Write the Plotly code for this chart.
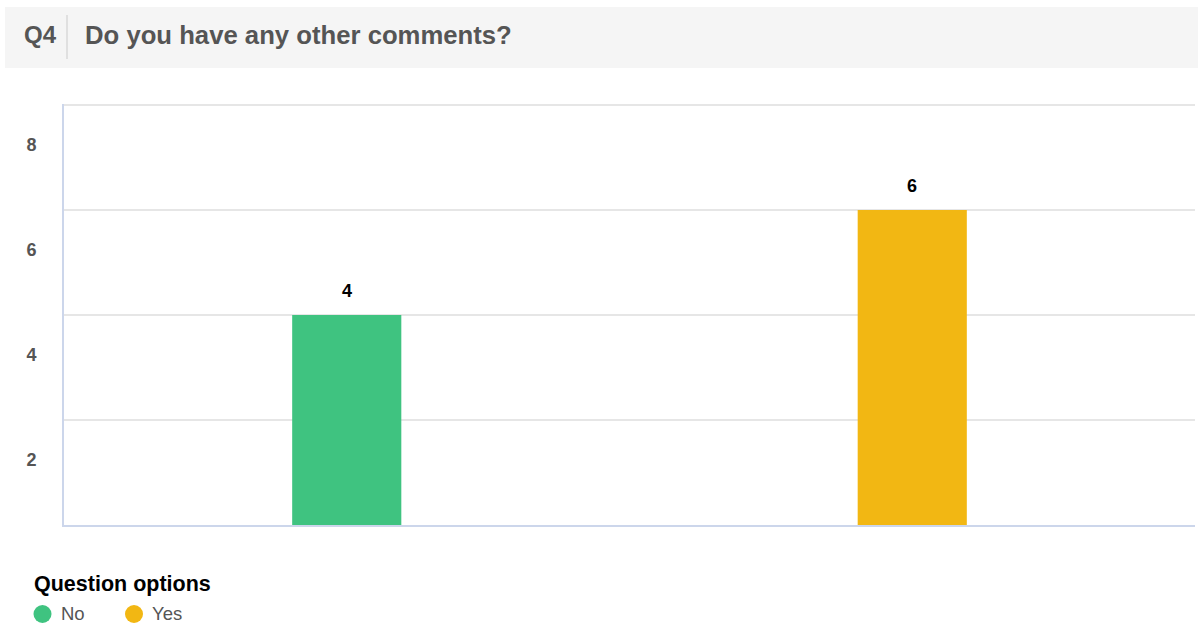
import plotly.graph_objects as go

categories = ["No", "Yes"]
values = [4, 6]
colors = ["#3fc380", "#f2b713"]
tick_vals = [2, 4, 6, 8]
tick_text = ["2", "4", "6", "8"]
question_no = "Q4"
question_title = "Do you have any other comments?"
legend_title = "Question options"

W, H = 1198, 623
L, R, T, B = 64, 3, 104, 98
pw = W - L - R
ph = H - T - B

def px_x(p):  # screen x -> paper
    return (p - L) / pw

def px_y(p):  # screen y -> paper
    return (H - B - p) / ph

fig = go.Figure()
for cat, val, col in zip(categories, values, colors):
    fig.add_trace(go.Bar(x=[cat], y=[val], marker=dict(color=col, line=dict(width=0)),
                         width=0.193, showlegend=False, hoverinfo="skip"))

annotations = []
for cat, val in zip(categories, values):
    annotations.append(dict(x=cat, y=val, xref="x", yref="y", text=f"<b>{val}</b>",
                            showarrow=False, yshift=24,
                            font=dict(family="Liberation Sans", size=18, color="#000000")))
annotations.append(dict(x=px_x(22), y=px_y(34.5), xref="paper", yref="paper", xanchor="left",
                        yanchor="middle", text=f"<b>{question_no}</b>", showarrow=False,
                        font=dict(family="Liberation Sans", size=24, color="#555555")))
annotations.append(dict(x=px_x(83), y=px_y(34.5), xref="paper", yref="paper", xanchor="left",
                        yanchor="middle", text=f"<b>{question_title}</b>", showarrow=False,
                        font=dict(family="Liberation Sans", size=25.7, color="#555555")))
# legend (title + items)
annotations.append(dict(x=px_x(32), y=px_y(584), xref="paper", yref="paper", xanchor="left",
                        yanchor="middle", text=f"<b>{legend_title}</b>", showarrow=False,
                        font=dict(family="Liberation Sans", size=21.5, color="#000000")))
leg_dot_x = [42.5, 134]
leg_text_x = [59, 150]
shapes = [
    dict(type="rect", xref="paper", yref="paper", x0=px_x(5), x1=px_x(1200), y0=px_y(68), y1=px_y(7),
         fillcolor="#f5f5f5", line=dict(width=0), layer="below"),
    dict(type="line", xref="paper", yref="paper", x0=px_x(67), x1=px_x(67), y0=px_y(59), y1=px_y(15),
         line=dict(color="#d8d8d8", width=1.5)),
]
for cat, col, dx, tx in zip(categories, colors, leg_dot_x, leg_text_x):
    shapes.append(dict(type="circle", xref="paper", yref="paper", xsizemode="pixel", ysizemode="pixel",
                       xanchor=px_x(dx), yanchor=px_y(614), x0=-9, x1=9, y0=-9, y1=9,
                       fillcolor=col, line=dict(width=0)))
    annotations.append(dict(x=px_x(tx), y=px_y(613.5), xref="paper", yref="paper", xanchor="left",
                            yanchor="middle", text=cat, showarrow=False,
                            font=dict(family="Liberation Sans", size=18.5, color="#555555")))

fig.update_layout(
    width=W, height=H,
    margin=dict(l=L, r=R, t=T, b=B, pad=0, autoexpand=False),
    paper_bgcolor="white", plot_bgcolor="white",
    barmode="overlay",
    font=dict(family="Liberation Sans", color="#555555"),
    annotations=annotations,
    shapes=shapes,
    showlegend=False,
)
fig.update_xaxes(categoryorder="array", categoryarray=categories, showticklabels=False,
                 showline=True, linecolor="#ccd6eb", linewidth=2, showgrid=False,
                 range=[-0.5, 1.5], fixedrange=True, zeroline=False, automargin=False)
fig.update_yaxes(range=[0, 8.02], tickvals=tick_vals, ticktext=tick_text, showgrid=True,
                 gridcolor="#e6e6e6", gridwidth=1.5, showline=True, linecolor="#ccd6eb",
                 linewidth=2, zeroline=False, ticks="", ticklabelshift=40,
                 ticklabelstandoff=22, automargin=False,
                 tickfont=dict(family="Liberation Sans", size=18, color="#555555", weight="bold"))

fig.write_html("out.html", config={"displayModeBar": False},
               post_script="document.body.style.margin='0';document.body.style.overflow='hidden';")
